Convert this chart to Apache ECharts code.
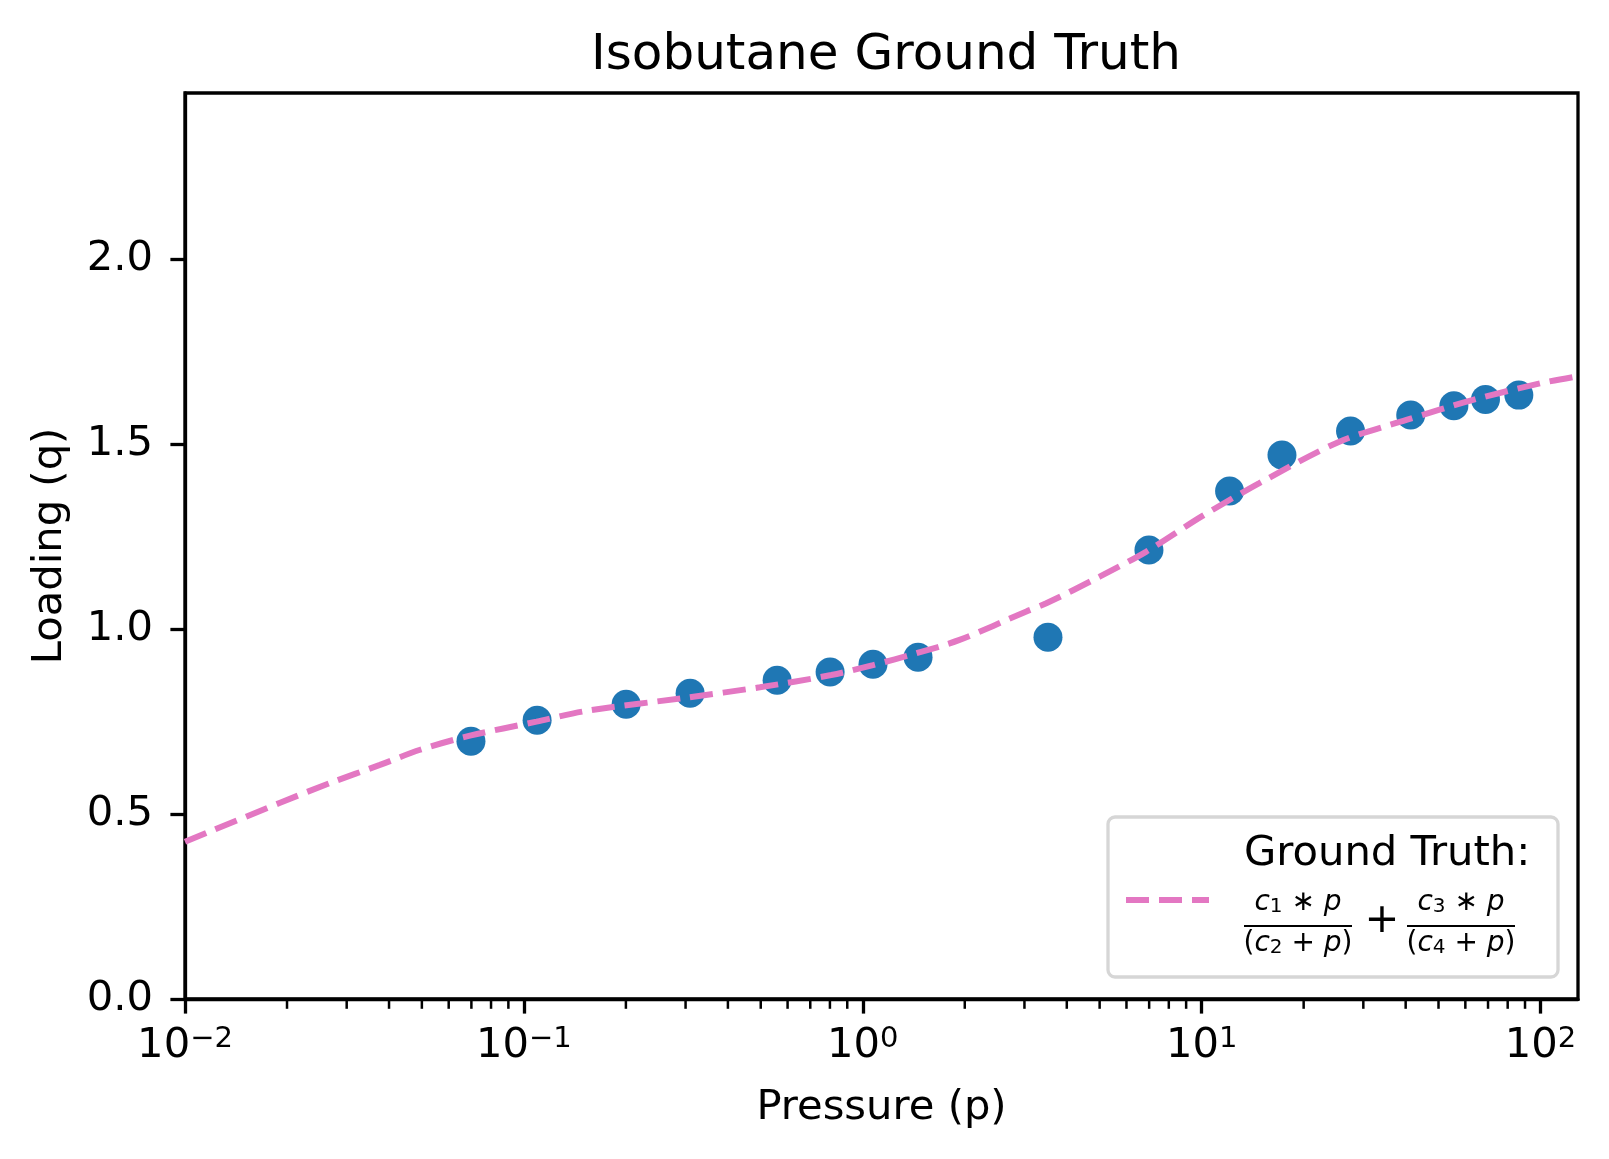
<!DOCTYPE html>
<html>
<head>
<meta charset="utf-8">
<title>Isobutane Ground Truth</title>
<script src="https://cdn.jsdelivr.net/npm/echarts@6.0.0/dist/echarts.min.js"></script>
<style>
  html, body { margin: 0; padding: 0; background: #fff; }
  #chart { width: 1609px; height: 1159px; }
</style>
</head>
<body>
<div id="chart"></div>
<script>
// measured points (pressure, loading)
const pressure = [0.0698, 0.1094, 0.2003, 0.3094, 0.5588, 0.801, 1.072, 1.456, 3.52, 6.99, 12.09, 17.26, 27.5, 41.4, 55.5, 68.8, 86.3];
const loading = [0.697, 0.754, 0.797, 0.827, 0.862, 0.884, 0.905, 0.924, 0.978, 1.214, 1.374, 1.471, 1.536, 1.579, 1.604, 1.621, 1.633];

// ground truth curve
const curveP = [0.01, 0.019, 0.0268, 0.0376, 0.0494, 0.0693, 0.109, 0.153, 0.302, 0.497, 0.807, 1.072, 1.44, 1.93, 3.04, 3.48, 5.0, 6.87, 10, 14.8, 25.5, 40.2, 63.2, 100, 129];
const curveQ = [0.425, 0.530, 0.584, 0.633, 0.674, 0.712, 0.750, 0.779, 0.815, 0.843, 0.876, 0.903, 0.935, 0.971, 1.048, 1.070, 1.142, 1.210, 1.305, 1.395, 1.507, 1.566, 1.620, 1.665, 1.684];

// ticks
const xTickValues = [0.01, 0.1, 1, 10, 100];
const xTickExps = ['−2', '−1', '0', '1', '2'];
const yTickValues = [0, 0.5, 1.0, 1.5, 2.0];
const xMinorTicks = [];
[0.01, 0.1, 1, 10].forEach(function (d) {
  for (let k = 2; k <= 9; k++) xMinorTicks.push(+(d * k).toPrecision(3));
});

const FONT = 'DejaVu Sans';
const chart = echarts.init(document.getElementById('chart'));

const scatterData = pressure.map(function (p, i) { return [p, loading[i]]; });
const curveData = curveP.map(function (p, i) { return [p, curveQ[i]]; });

// mathtext-like rich styles for the legend fractions
const fracRich = {
  i: { fontFamily: FONT, fontStyle: 'italic', fontSize: 28, lineHeight: 28, fill: '#000' },
  s: { fontFamily: FONT, fontSize: 20, lineHeight: 12, verticalAlign: 'bottom', fill: '#000' },
  o: { fontFamily: FONT, fontSize: 28, lineHeight: 28, fill: '#000' }
};

chart.setOption({
  animation: false,
  backgroundColor: '#fff',
  title: {
    text: 'Isobutane Ground Truth',
    left: 881,
    top: 26,
    textAlign: 'center',
    textStyle: { fontFamily: FONT, fontSize: 50, fontWeight: 'normal', color: '#000' }
  },
  grid: {
    left: 185, right: 31, top: 93, bottom: 160,
    outerBoundsMode: 'none',
    show: true, borderColor: '#000', borderWidth: 3.3, backgroundColor: 'transparent'
  },
  xAxis: {
    type: 'log',
    logBase: 10,
    min: 0.01,
    max: 129,
    name: 'Pressure (p)',
    nameLocation: 'middle',
    nameGap: 88,
    nameTextStyle: { fontFamily: FONT, fontSize: 41.7, color: '#000' },
    axisLine: { show: true, lineStyle: { color: '#000', width: 3.3 } },
    axisTick: { show: true, length: 14.6, lineStyle: { color: '#000', width: 3.3 }, customValues: xTickValues },
    splitLine: { show: false },
    axisLabel: {
      customValues: xTickValues,
      margin: 26,
      formatter: function (v) {
        const i = xTickValues.findIndex(function (t) { return Math.abs(Math.log10(t) - Math.log10(v)) < 1e-6; });
        return '{a|10}{b|' + (i >= 0 ? xTickExps[i] : '') + '}';
      },
      rich: {
        a: { fontFamily: FONT, fontSize: 41.7, lineHeight: 42, color: '#000' },
        b: { fontFamily: FONT, fontSize: 29, lineHeight: 20, verticalAlign: 'top', color: '#000' }
      }
    }
  },
  yAxis: {
    type: 'value',
    min: 0,
    max: 2.45,
    name: 'Loading (q)',
    nameLocation: 'middle',
    nameGap: 114,
    nameTextStyle: { fontFamily: FONT, fontSize: 41.7, color: '#000' },
    axisLine: { show: true, lineStyle: { color: '#000', width: 3.3 } },
    axisTick: { show: true, length: 14.6, lineStyle: { color: '#000', width: 3.3 }, customValues: yTickValues },
    splitLine: { show: false },
    axisLabel: {
      customValues: yTickValues,
      margin: 32,
      fontFamily: FONT, fontSize: 41.7, color: '#000',
      formatter: function (v) { return v.toFixed(1); }
    }
  },
  series: [
    {
      name: 'data',
      type: 'scatter',
      data: scatterData,
      symbol: 'circle',
      symbolSize: 29,
      itemStyle: { color: '#1f77b4', opacity: 1 },
      z: 2
    },
    {
      name: 'Ground Truth',
      type: 'line',
      data: curveData,
      showSymbol: false,
      symbol: 'none',
      smooth: 0.3,
      lineStyle: { color: '#e377c2', width: 6, type: [23, 10] },
      z: 3
    },
    {
      name: 'minor ticks',
      type: 'custom',
      data: xMinorTicks.map(function (v) { return [v, 0]; }),
      clip: false,
      silent: true,
      z: 5,
      renderItem: function (params, api) {
        const pt = api.coord([api.value(0), 0]);
        return {
          type: 'line',
          shape: { x1: pt[0], y1: pt[1] + 1.5, x2: pt[0], y2: pt[1] + 9.8 },
          style: { stroke: '#000', lineWidth: 2.5 }
        };
      }
    }
  ],
  graphic: [
    {
      type: 'rect', z: 100,
      shape: { x: 1108, y: 817, width: 450, height: 160, r: 7 },
      style: { fill: 'rgba(255,255,255,0.8)', stroke: '#d6d6d6', lineWidth: 3.3 }
    },
    {
      type: 'line', z: 101,
      shape: { x1: 1126, y1: 900, x2: 1209, y2: 900 },
      style: { stroke: '#e377c2', lineWidth: 6, lineDash: [23, 10] }
    },
    {
      type: 'text', z: 101,
      style: { text: 'Ground Truth:', x: 1244, y: 854, align: 'left', verticalAlign: 'middle',
        fontFamily: FONT, fontSize: 41.7, fill: '#000' }
    },
    {
      type: 'text', z: 101,
      style: { text: '{i|c}{s|1}{o| ∗ }{i|p}', x: 1298, y: 903, align: 'center', verticalAlign: 'middle', rich: fracRich }
    },
    {
      type: 'line', z: 101,
      shape: { x1: 1244, y1: 926, x2: 1352, y2: 926 },
      style: { stroke: '#000', lineWidth: 2 }
    },
    {
      type: 'text', z: 101,
      style: { text: '{o|(}{i|c}{s|2}{o| + }{i|p}{o|)}', x: 1298, y: 944, align: 'center', verticalAlign: 'middle', rich: fracRich }
    },
    {
      type: 'text', z: 101,
      style: { text: '+', x: 1382, y: 921, align: 'center', verticalAlign: 'middle',
        fontFamily: FONT, fontSize: 41.7, fill: '#000' }
    },
    {
      type: 'text', z: 101,
      style: { text: '{i|c}{s|3}{o| ∗ }{i|p}', x: 1461, y: 903, align: 'center', verticalAlign: 'middle', rich: fracRich }
    },
    {
      type: 'line', z: 101,
      shape: { x1: 1407, y1: 926, x2: 1515, y2: 926 },
      style: { stroke: '#000', lineWidth: 2 }
    },
    {
      type: 'text', z: 101,
      style: { text: '{o|(}{i|c}{s|4}{o| + }{i|p}{o|)}', x: 1461, y: 944, align: 'center', verticalAlign: 'middle', rich: fracRich }
    }
  ]
});
</script>
</body>
</html>
